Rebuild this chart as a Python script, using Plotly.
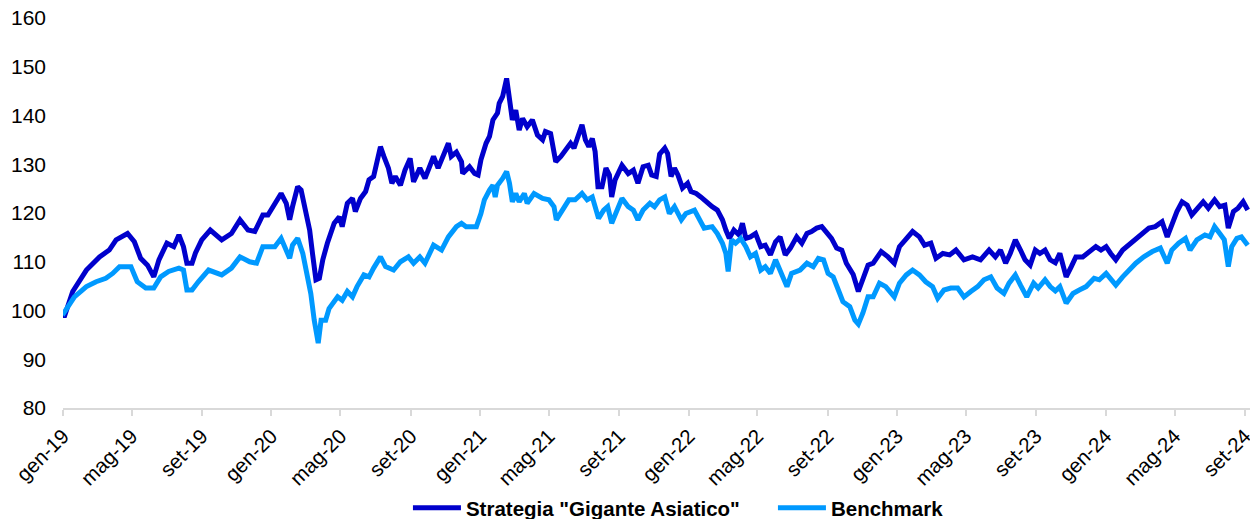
import plotly.graph_objects as go

# ---- data ----
strategy_dates = [
    "2019-01-01", "2019-01-03", "2019-01-18", "2019-02-11", "2019-03-06", "2019-03-23", "2019-04-04",
    "2019-04-24", "2019-05-06", "2019-05-17", "2019-05-29", "2019-06-09", "2019-06-18", "2019-07-02",
    "2019-07-14", "2019-07-23", "2019-07-31", "2019-08-06", "2019-08-15", "2019-08-21", "2019-09-01",
    "2019-09-16", "2019-10-06", "2019-10-23", "2019-11-07", "2019-11-21", "2019-12-03", "2019-12-17",
    "2019-12-26", "2020-01-18", "2020-01-27", "2020-02-02", "2020-02-07", "2020-02-16", "2020-02-22",
    "2020-03-02", "2020-03-08", "2020-03-13", "2020-03-19", "2020-03-25", "2020-03-31", "2020-04-08",
    "2020-04-20", "2020-04-29", "2020-05-04", "2020-05-13", "2020-05-22", "2020-05-27", "2020-06-05",
    "2020-06-14", "2020-06-20", "2020-06-28", "2020-07-04", "2020-07-10", "2020-07-16", "2020-07-24",
    "2020-07-30", "2020-08-05", "2020-08-14", "2020-08-22", "2020-08-31", "2020-09-06", "2020-09-17",
    "2020-09-26", "2020-10-05", "2020-10-11", "2020-10-19", "2020-10-28", "2020-11-06", "2020-11-11",
    "2020-11-20", "2020-11-29", "2020-12-01", "2020-12-13", "2020-12-22", "2020-12-28", "2021-01-02",
    "2021-01-11", "2021-01-17", "2021-01-23", "2021-01-31", "2021-02-03", "2021-02-09", "2021-02-16",
    "2021-02-21", "2021-02-26", "2021-03-04", "2021-03-10", "2021-03-16", "2021-03-24", "2021-04-02",
    "2021-04-11", "2021-04-20", "2021-04-25", "2021-05-04", "2021-05-13", "2021-05-22", "2021-05-31",
    "2021-06-08", "2021-06-14", "2021-06-23", "2021-06-28", "2021-07-04", "2021-07-10", "2021-07-16",
    "2021-07-21", "2021-07-26", "2021-08-02", "2021-08-09", "2021-08-15", "2021-08-19", "2021-08-25",
    "2021-09-06", "2021-09-17", "2021-09-26", "2021-10-04", "2021-10-13", "2021-10-22", "2021-10-28",
    "2021-11-05", "2021-11-11", "2021-11-20", "2021-11-25", "2021-12-01", "2021-12-07", "2021-12-13",
    "2021-12-21", "2021-12-30", "2022-01-05", "2022-01-14", "2022-01-22", "2022-02-03", "2022-02-11",
    "2022-02-20", "2022-03-01", "2022-03-07", "2022-03-13", "2022-03-21", "2022-03-30", "2022-04-05",
    "2022-04-11", "2022-04-19", "2022-04-28", "2022-05-07", "2022-05-15", "2022-05-24", "2022-06-02",
    "2022-06-10", "2022-06-19", "2022-06-28", "2022-07-09", "2022-07-18", "2022-07-27", "2022-08-04",
    "2022-08-13", "2022-08-22", "2022-08-31", "2022-09-08", "2022-09-17", "2022-09-26", "2022-10-04",
    "2022-10-16", "2022-10-25", "2022-11-02", "2022-11-11", "2022-11-20", "2022-12-04", "2022-12-16",
    "2022-12-27", "2023-01-05", "2023-01-17", "2023-01-28", "2023-02-09", "2023-02-18", "2023-03-01",
    "2023-03-10", "2023-03-22", "2023-04-03", "2023-04-14", "2023-04-28", "2023-05-13", "2023-05-27",
    "2023-06-11", "2023-06-22", "2023-07-01", "2023-07-10", "2023-07-18", "2023-07-27", "2023-08-05",
    "2023-08-13", "2023-08-22", "2023-08-31", "2023-09-08", "2023-09-17", "2023-09-26", "2023-10-05",
    "2023-10-13", "2023-10-24", "2023-11-02", "2023-11-10", "2023-11-22", "2023-12-03", "2023-12-15",
    "2023-12-24", "2024-01-02", "2024-01-10", "2024-01-19", "2024-01-31", "2024-02-11", "2024-02-23",
    "2024-03-05", "2024-03-17", "2024-03-28", "2024-04-09", "2024-04-18", "2024-04-26", "2024-05-05",
    "2024-05-14", "2024-05-23", "2024-05-31", "2024-06-09", "2024-06-20", "2024-06-29", "2024-07-10",
    "2024-07-19", "2024-07-28", "2024-08-03", "2024-08-12", "2024-08-20", "2024-08-29", "2024-09-06",
]
strategy = [
    99.6, 98.6, 103.9, 108.3, 111.0, 112.4, 114.5,
    115.8, 114.1, 110.7, 109.3, 106.9, 110.4, 113.8,
    113.1, 115.5, 113.1, 109.7, 109.7, 111.8, 114.5,
    116.5, 114.5, 115.8, 118.6, 116.5, 116.2, 119.6,
    119.6, 124.0, 122.0, 118.6, 121.3, 125.4, 124.7,
    119.2, 116.5, 111.7, 106.3, 106.6, 110.4, 113.8,
    117.9, 119.2, 117.2, 122.0, 123.0, 120.3, 123.0,
    124.4, 126.8, 127.5, 130.2, 133.6, 131.6, 129.2,
    126.1, 127.5, 125.7, 128.8, 131.2, 126.4, 129.2,
    127.1, 129.8, 131.6, 129.2, 131.6, 134.3, 131.6,
    132.5, 130.5, 128.1, 129.5, 128.1, 127.8, 130.9,
    134.3, 135.7, 139.1, 140.5, 142.5, 143.9, 147.6,
    143.2, 139.1, 141.1, 137.0, 139.4, 137.7, 139.1,
    136.0, 135.0, 136.7, 136.3, 130.5, 131.6, 132.9,
    134.3, 133.3, 136.3, 138.1, 135.0, 133.6, 135.3,
    132.6, 125.4, 125.4, 129.2, 127.8, 123.3, 126.8,
    129.8, 128.1, 128.8, 126.1, 129.5, 129.8, 127.8,
    127.5, 132.1, 133.3, 132.2, 127.5, 129.2, 127.8,
    125.1, 126.1, 124.4, 124.0, 123.3, 122.0, 121.3,
    120.6, 118.6, 116.5, 114.8, 116.5, 115.5, 117.9,
    114.8, 115.1, 115.8, 113.1, 113.4, 111.4, 114.1,
    115.1, 111.4, 112.8, 115.1, 113.8, 115.8, 116.2,
    116.9, 117.2, 115.8, 114.8, 112.8, 112.4, 109.7,
    107.4, 103.9, 106.6, 109.3, 109.7, 112.1, 111.0,
    109.7, 113.1, 114.8, 116.2, 115.1, 113.4, 113.8,
    110.7, 111.7, 111.4, 112.4, 110.4, 111.0, 110.4,
    112.4, 111.0, 112.4, 109.7, 111.7, 114.5, 112.4,
    110.4, 109.3, 112.4, 111.7, 112.4, 110.4, 109.8,
    111.7, 106.9, 109.0, 111.0, 111.0, 112.1, 113.1,
    112.4, 113.1, 111.7, 110.4, 112.4, 113.4, 114.8,
    115.8, 116.9, 117.2, 118.2, 115.1, 117.9, 120.3,
    122.3, 121.6, 119.6, 121.0, 122.3, 121.0, 122.7,
    121.3, 121.6, 116.9, 120.3, 121.0, 122.3, 120.6,
]

benchmark_dates = [
    "2019-01-01", "2019-01-03", "2019-01-21", "2019-02-11", "2019-02-28", "2019-03-17", "2019-03-29",
    "2019-04-10", "2019-04-30", "2019-05-11", "2019-05-26", "2019-06-09", "2019-06-21", "2019-07-05",
    "2019-07-23", "2019-07-31", "2019-08-06", "2019-08-15", "2019-08-26", "2019-09-13", "2019-10-06",
    "2019-10-23", "2019-11-07", "2019-11-24", "2019-12-06", "2019-12-17", "2019-12-20", "2020-01-07",
    "2020-01-18", "2020-02-02", "2020-02-07", "2020-02-16", "2020-02-25", "2020-03-04", "2020-03-10",
    "2020-03-16", "2020-03-23", "2020-03-28", "2020-04-05", "2020-04-11", "2020-04-26", "2020-05-04",
    "2020-05-13", "2020-05-22", "2020-05-30", "2020-06-11", "2020-06-20", "2020-06-28", "2020-07-10",
    "2020-07-19", "2020-08-02", "2020-08-14", "2020-08-28", "2020-09-06", "2020-09-17", "2020-09-26",
    "2020-10-11", "2020-10-25", "2020-11-06", "2020-11-20", "2020-11-29", "2020-12-07", "2020-12-25",
    "2021-01-02", "2021-01-08", "2021-01-17", "2021-01-23", "2021-01-27", "2021-01-31", "2021-02-09",
    "2021-02-16", "2021-02-21", "2021-02-26", "2021-03-04", "2021-03-10", "2021-03-19", "2021-03-24",
    "2021-04-05", "2021-04-20", "2021-05-01", "2021-05-10", "2021-05-14", "2021-05-24", "2021-06-05",
    "2021-06-16", "2021-06-28", "2021-07-07", "2021-07-16", "2021-07-21", "2021-07-27", "2021-08-05",
    "2021-08-12", "2021-08-19", "2021-08-28", "2021-09-06", "2021-09-17", "2021-09-26", "2021-10-04",
    "2021-10-13", "2021-10-25", "2021-11-02", "2021-11-11", "2021-11-20", "2021-11-28", "2021-12-07",
    "2021-12-19", "2021-12-27", "2022-01-11", "2022-01-19", "2022-01-28", "2022-02-11", "2022-02-20",
    "2022-03-01", "2022-03-07", "2022-03-11", "2022-03-17", "2022-03-24", "2022-04-02", "2022-04-11",
    "2022-04-19", "2022-04-28", "2022-05-07", "2022-05-15", "2022-05-24", "2022-06-02", "2022-06-10",
    "2022-06-22", "2022-06-30", "2022-07-15", "2022-07-27", "2022-08-07", "2022-08-16", "2022-08-25",
    "2022-09-02", "2022-09-11", "2022-09-20", "2022-09-28", "2022-10-10", "2022-10-19", "2022-10-25",
    "2022-11-02", "2022-11-11", "2022-11-20", "2022-12-01", "2022-12-12", "2022-12-27", "2023-01-05",
    "2023-01-17", "2023-01-28", "2023-02-09", "2023-02-20", "2023-03-04", "2023-03-13", "2023-03-24",
    "2023-04-05", "2023-04-17", "2023-04-28", "2023-05-10", "2023-05-22", "2023-06-02", "2023-06-14",
    "2023-06-25", "2023-07-07", "2023-07-16", "2023-07-27", "2023-08-05", "2023-08-16", "2023-08-28",
    "2023-09-05", "2023-09-17", "2023-09-26", "2023-10-05", "2023-10-13", "2023-10-24", "2023-11-05",
    "2023-11-16", "2023-11-28", "2023-12-12", "2023-12-21", "2024-01-02", "2024-01-10", "2024-01-19",
    "2024-01-31", "2024-02-11", "2024-02-23", "2024-03-08", "2024-03-23", "2024-04-06", "2024-04-18",
    "2024-04-26", "2024-05-08", "2024-05-20", "2024-05-28", "2024-06-09", "2024-06-23", "2024-07-02",
    "2024-07-10", "2024-07-19", "2024-07-27", "2024-08-03", "2024-08-09", "2024-08-18", "2024-08-26",
    "2024-09-06",
]
benchmark = [
    99.9, 99.6, 102.8, 104.9, 105.9, 106.6, 107.6,
    109.0, 109.0, 105.9, 104.6, 104.6, 106.9, 108.0,
    108.7, 108.3, 104.2, 104.2, 105.9, 108.3, 107.3,
    108.7, 111.0, 110.0, 109.7, 113.1, 113.1, 113.1,
    114.8, 110.7, 113.4, 114.8, 111.7, 107.6, 103.5,
    98.0, 93.3, 98.0, 98.0, 100.4, 102.8, 102.1,
    103.9, 102.8, 104.9, 107.3, 106.9, 108.7, 111.0,
    109.0, 108.3, 110.0, 111.0, 109.7, 111.0, 109.7,
    113.4, 112.4, 115.1, 117.2, 117.9, 117.2, 117.2,
    119.9, 122.7, 124.7, 125.7, 123.3, 125.7, 127.1,
    128.5, 126.1, 122.3, 124.0, 122.3, 124.0, 122.0,
    124.0, 123.0, 122.7, 121.3, 118.6, 120.6, 122.7,
    122.7, 124.0, 122.7, 123.3, 121.3, 118.9, 120.6,
    121.3, 117.9, 120.6, 123.0, 121.3, 120.6, 118.6,
    120.6, 122.0, 121.3, 122.7, 123.3, 119.9, 121.3,
    118.6, 119.9, 120.6, 118.6, 116.9, 117.2, 115.8,
    113.8, 111.7, 108.0, 114.5, 113.8, 114.8, 113.1,
    111.0, 111.7, 108.3, 109.0, 107.6, 110.4, 108.3,
    104.9, 107.6, 108.3, 109.7, 109.0, 110.7, 110.4,
    107.6, 106.9, 104.2, 101.8, 100.8, 98.0, 97.2,
    99.5, 102.8, 102.8, 105.6, 104.9, 102.8, 105.6,
    107.3, 108.3, 107.3, 105.9, 104.9, 102.5, 104.2,
    104.6, 104.6, 102.8, 103.9, 104.9, 106.3, 106.9,
    104.6, 103.5, 105.6, 107.3, 105.2, 102.8, 105.6,
    104.6, 106.3, 104.9, 104.0, 104.9, 101.5, 103.5,
    104.2, 104.9, 106.6, 106.3, 107.6, 106.6, 105.2,
    106.9, 108.3, 109.7, 111.0, 112.1, 112.8, 109.7,
    112.4, 113.8, 114.8, 112.4, 114.5, 115.5, 115.1,
    117.2, 115.8, 114.5, 109.0, 113.1, 114.8, 115.1,
    113.4,
]

tick_dates = [
    "2019-01-01", "2019-05-01", "2019-09-01", "2020-01-01", "2020-05-01", "2020-09-01",
    "2021-01-01", "2021-05-01", "2021-09-01", "2022-01-01", "2022-05-01", "2022-09-01",
    "2023-01-01", "2023-05-01", "2023-09-01", "2024-01-01", "2024-05-01", "2024-09-01",
]
tick_labels = [
    "gen-19", "mag-19", "set-19", "gen-20", "mag-20", "set-20",
    "gen-21", "mag-21", "set-21", "gen-22", "mag-22", "set-22",
    "gen-23", "mag-23", "set-23", "gen-24", "mag-24", "set-24",
]
series_names = ['Strategia "Gigante Asiatico"', "Benchmark"]

FONT = "Liberation Sans, Arial, sans-serif"

fig = go.Figure()
fig.add_trace(go.Scatter(
    x=strategy_dates, y=strategy, mode="lines", name=series_names[0],
    line=dict(color="#0000CC", width=5),
))
fig.add_trace(go.Scatter(
    x=benchmark_dates, y=benchmark, mode="lines", name=series_names[1],
    line=dict(color="#0099FF", width=5),
))

# the page adds an 8px body margin, so the figure is sized to avoid any overflow
fig.update_layout(
    width=1242, height=511,
    margin=dict(l=55, r=0, t=10, b=111, autoexpand=False),
    paper_bgcolor="white", plot_bgcolor="white",
    font=dict(family=FONT, color="#000000"),
    showlegend=True,
    legend=dict(
        orientation="h", x=0.2906, xanchor="left", y=-0.256, yanchor="middle",
        font=dict(family=FONT, size=20.5, color="#000000", weight="bold"),
        traceorder="normal", itemwidth=48, entrywidth=302,
    ),
)
fig.update_xaxes(
    type="date",
    range=["2019-01-01", "2024-09-10"],
    tickvals=tick_dates, ticktext=tick_labels,
    tickangle=-45, automargin=False, ticklabeloverflow="allow",
    tickfont=dict(family=FONT, size=20.5, color="#000000"),
    showgrid=False, zeroline=False,
    showline=True, linecolor="#D9D9D9", linewidth=2,
    ticks="outside", ticklen=6, tickcolor="#D9D9D9", tickwidth=2,
)
fig.update_yaxes(
    range=[80, 160], dtick=10, tick0=80, automargin=False, ticklabeloverflow="allow",
    tickfont=dict(family=FONT, size=21, color="#000000"),
    showgrid=False, zeroline=False, showline=False,
    ticks="", ticklabelstandoff=16,
)

fig.write_html("out.html")
